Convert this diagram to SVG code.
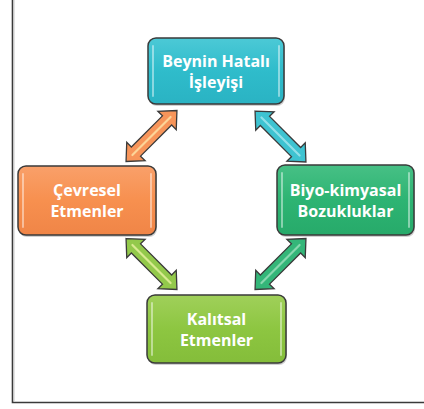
<svg xmlns="http://www.w3.org/2000/svg" width="424" height="409" viewBox="0 0 424 409">
<style>
.box{stroke:#3a3a3a;stroke-width:1.5}
.shadow{fill:#000;opacity:0.18}
.hl{fill:none;stroke:#fff;stroke-width:2;opacity:0.45;stroke-linecap:round}
.lbl{font-family:"Open Sans","Liberation Sans",sans-serif;font-weight:bold;font-size:16px;fill:#fff;text-anchor:middle}
.arr{stroke:#3a3a3a;stroke-width:1.3;stroke-linejoin:miter}
.arrhl{fill:none;stroke-width:2.2;stroke-linecap:round;opacity:0.8}
</style>
<defs>
<linearGradient id="gC" x1="0" y1="0" x2="0" y2="1"><stop offset="0" stop-color="#4cc9d6"/><stop offset="0.5" stop-color="#2fbccb"/><stop offset="1" stop-color="#2ab3c3"/></linearGradient>
<linearGradient id="gO" x1="0" y1="0" x2="0" y2="1"><stop offset="0" stop-color="#f9a06a"/><stop offset="0.5" stop-color="#f7904f"/><stop offset="1" stop-color="#f08547"/></linearGradient>
<linearGradient id="gG" x1="0" y1="0" x2="0" y2="1"><stop offset="0" stop-color="#47c085"/><stop offset="0.5" stop-color="#2db473"/><stop offset="1" stop-color="#27aa6a"/></linearGradient>
<linearGradient id="gL" x1="0" y1="0" x2="0" y2="1"><stop offset="0" stop-color="#a0d05a"/><stop offset="0.5" stop-color="#8dc641"/><stop offset="1" stop-color="#84bd3a"/></linearGradient>
<path id="dblarrow" d="M-36,0 L-22,-13 L-22,-6.5 L22,-6.5 L22,-13 L36,0 L22,13 L22,6.5 L-22,6.5 L-22,13 Z"/>
</defs>
<rect width="424" height="409" fill="#fff"/>
<g id="frame">
<path d="M12.5,0 V402.5 H424" fill="none" stroke="#3a3a3a" stroke-width="1.6"/>
<path d="M14,0 V401" fill="none" stroke="#c8c8c8" stroke-width="1"/>
</g>
<g id="connectors">
<g transform="translate(151.5,136) rotate(-45)"><use href="#dblarrow" class="arr" fill="#f7955a"/><path d="M-27,0 H27" class="arrhl" stroke="#fde3a8"/></g>
<g transform="translate(280.5,136.5) rotate(45)"><use href="#dblarrow" class="arr" fill="#3ec3d1"/><path d="M-27,0 H27" class="arrhl" stroke="#a5e6ee"/></g>
<g transform="translate(151.5,264) rotate(45)"><use href="#dblarrow" class="arr" fill="#93c94b"/><path d="M-27,0 H27" class="arrhl" stroke="#eaf2a0"/></g>
<g transform="translate(280.5,264) rotate(-45)"><use href="#dblarrow" class="arr" fill="#34b679"/><path d="M-27,0 H27" class="arrhl" stroke="#9fe0bd"/></g>
</g>
<g id="node-beynin">
<rect x="149" y="40" width="136" height="66" rx="8" class="shadow"/>
<rect x="148" y="38" width="136" height="66" rx="8" fill="url(#gC)" class="box"/>
<path d="M153,46 V96 M279,46 V96" class="hl"/>
<text class="lbl" x="216" y="67">Beynin Hatalı</text>
<text class="lbl" x="216" y="88">İşleyişi</text>
</g>
<g id="node-cevresel">
<rect x="19" y="168" width="138" height="69" rx="8" class="shadow"/>
<rect x="18" y="166" width="138" height="69" rx="8" fill="url(#gO)" class="box"/>
<path d="M23,174 V227 M151,174 V227" class="hl"/>
<text class="lbl" x="87" y="196">Çevresel</text>
<text class="lbl" x="87" y="217">Etmenler</text>
</g>
<g id="node-biyo">
<rect x="278" y="167" width="137" height="70" rx="8" class="shadow"/>
<rect x="277" y="165" width="137" height="70" rx="8" fill="url(#gG)" class="box"/>
<path d="M282,173 V227 M409,173 V227" class="hl"/>
<text class="lbl" x="345.5" y="196">Biyo-kimyasal</text>
<text class="lbl" x="345.5" y="217">Bozukluklar</text>
</g>
<g id="node-kalitsal">
<rect x="148" y="297" width="139" height="68" rx="8" class="shadow"/>
<rect x="147" y="295" width="139" height="68" rx="8" fill="url(#gL)" class="box"/>
<path d="M152,303 V355 M281,303 V355" class="hl"/>
<text class="lbl" x="216.5" y="325">Kalıtsal</text>
<text class="lbl" x="216.5" y="346">Etmenler</text>
</g>
</svg>
